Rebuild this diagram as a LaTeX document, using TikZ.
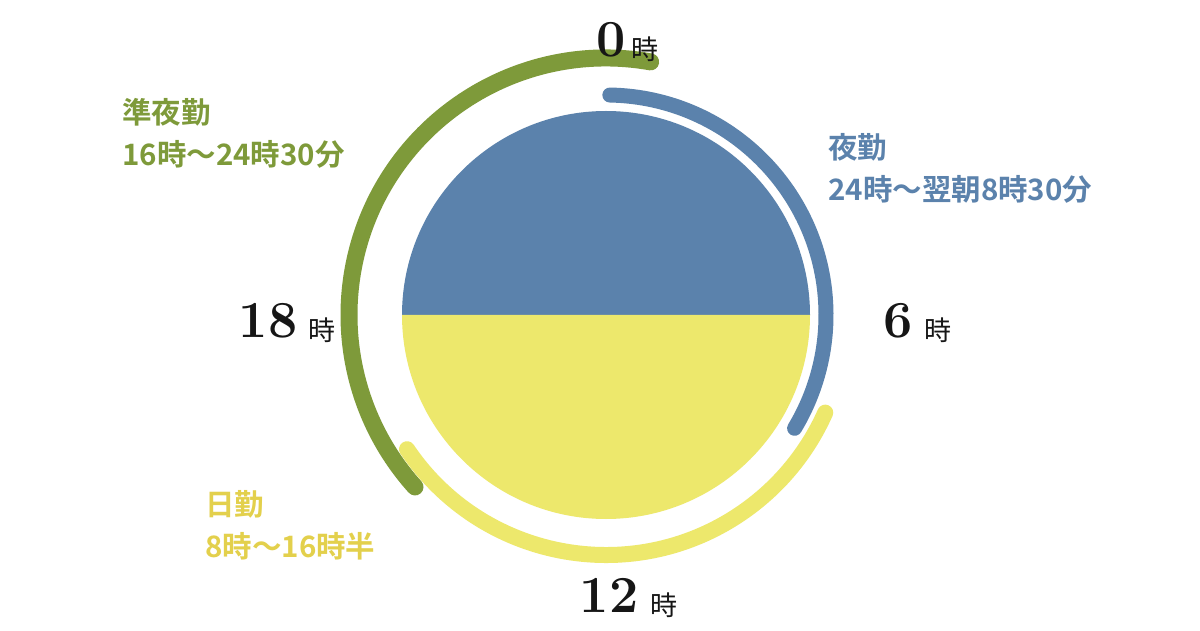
\documentclass[tikz,border=0pt]{standalone}
\usepackage{fontspec}
\usetikzlibrary{positioning}
\newfontfamily\jpfont{Noto Sans CJK JP}
\newfontfamily\jpbold{Noto Sans CJK JP Bold}
\definecolor{shiftgreen}{HTML}{7E9A3A}
\definecolor{shiftblue}{HTML}{5B82AC}
\definecolor{shiftyellow}{HTML}{EDE86C}
\definecolor{labelyellow}{HTML}{E3D04C}
\definecolor{hourblack}{HTML}{161616}
\tikzset{
  shiftarc/.style={line width=16pt,line cap=round},
  hournum/.style={inner sep=0pt,text=hourblack,font=\fontsize{52}{52}\selectfont\bfseries},
  hourunit/.style={inner sep=0pt,text=hourblack,font=\fontsize{27}{27}\jpfont},
  shiftlabel/.style={inner sep=0pt,anchor=north west,align=left,font=\fontsize{29.5}{42}\jpbold}
}
\begin{document}
\begin{tikzpicture}[x=1pt,y=1pt]
    \useasboundingbox (0,0) rectangle (1200,630);
    \fill[white] (0,0) rectangle (1200,630);
    \coordinate (c) at (606,315);

    % clock face
    \fill[shiftblue] (c) ++(0:204) arc[start angle=0,end angle=180,radius=204] -- cycle;
    \fill[shiftyellow] (c) ++(180:204) arc[start angle=180,end angle=360,radius=204] -- cycle;

    % shifts
    \draw[shiftarc,shiftgreen,line width=17pt] (c) ++(80:257) arc[start angle=80,end angle=222,radius=257];
    \draw[shiftarc,shiftblue,line width=15pt] (c) ++(89:220) arc[start angle=89,end angle=-31,radius=220];
    \draw[shiftarc,shiftyellow] (c) ++(214:240) arc[start angle=214,end angle=336,radius=240];

    % hours
    \node[hournum] (h0) at (611,590) {0};
    \node[hourunit,base right=5pt of h0,yshift=-3pt] (u0) {時};
    \node[hournum] (h6) at (898,309) {6};
    \node[hourunit,base right=11pt of h6,yshift=-3pt] (u6) {時};
    \node[hournum] (h12) at (609,35) {12};
    \node[hourunit,base right=12pt of h12,yshift=-3pt] (u12) {時};
    \node[hournum] (h18) at (268,309.5) {18};
    \node[hourunit,base right=11pt of h18,yshift=-3pt] (u18) {時};

    % shift names
    \node[shiftlabel,text=shiftgreen] (junya) at (122,532) {準夜勤\\16時～24時30分};
    \node[shiftlabel,text=shiftblue] (yakin) at (828,497) {夜勤\\24時～翌朝8時30分};
    \node[shiftlabel,text=labelyellow] (nikkin) at (205,140) {日勤\\8時～16時半};
\end{tikzpicture}
\end{document}
